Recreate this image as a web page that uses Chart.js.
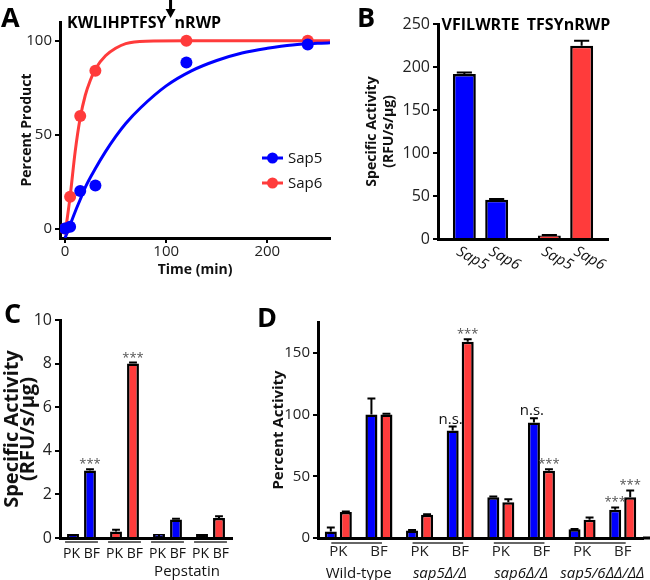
<!DOCTYPE html>
<html>
<head>
<meta charset="utf-8">
<script src="https://cdn.jsdelivr.net/npm/chart.js@4"></script>
<style>
  body { margin: 0; background: #fff; }
  #wrap { position: relative; width: 650px; height: 580px; }
  canvas { position: absolute; }
</style>
</head>
<body>
<div id="wrap">
  <canvas id="chartA" width="336" height="290" style="left:0;top:0"></canvas>
  <canvas id="chartB" width="314" height="290" style="left:336px;top:0"></canvas>
  <canvas id="chartC" width="240" height="290" style="left:0;top:290px"></canvas>
  <canvas id="chartD" width="410" height="290" style="left:240px;top:290px"></canvas>
</div>
<script>
/* panel A : time course on KWLIHPTFSY|nRWP */
var seqLeft = 'KWLIHPTFSY';
var seqRight = 'nRWP';
var timeTicks = [0, 100, 200];
var pctTicks = [0, 50, 100];
var sap5Time = [0, 5, 15, 30, 120, 240];
var sap5Pct = [0, 1, 20, 23, 88.5, 98];
var sap6Time = [0, 5, 15, 30, 120, 240];
var sap6Pct = [0, 17, 60, 84, 100, 100];
// fitted curves
var sap5FitT = [0, 5, 10, 15, 20, 30, 40, 50, 60, 75, 100, 125, 150, 175, 200, 225, 262];
var sap5FitY = [-5, 2, 9, 15.5, 22, 32, 41, 49, 56, 64.5, 76, 84, 89.5, 93.5, 96, 97.8, 99];
var sap6FitT = [0, 5, 10, 15, 20, 25, 30, 40, 50, 60, 80, 120, 262];
var sap6FitY = [-3, 17, 41, 59, 71, 79, 85, 92, 96, 98.5, 99.8, 100, 100];

/* panel B : specific activity on two substrates */
var substrates = ['VFILWRTE', 'TFSYnRWP'];
var bTicks = [0, 50, 100, 150, 200, 250];
var bSap5 = [191.8, 4.2];
var bSap5Err = [1.8, 0.5];
var bSap6 = [45.6, 224.6];
var bSap6Err = [0.8, 5.8];

/* panel C : PK vs BF, +/- pepstatin */
var cGroups = ['Sap5', 'Sap6', 'Sap5 pep', 'Sap6 pep'];
var cNotes = ['', '', 'Pepstatin', 'Pepstatin'];
var cTicks = [0, 2, 4, 6, 8, 10];
var cPK = [0.1, 0.3, 0.02, 0.07];
var cPKErr = [0.03, 0.08, 0.01, 0.02];
var cBF = [3.1, 8.0, 0.85, 0.92];
var cBFErr = [0.05, 0.05, 0.03, 0.08];
var cStars = ['***', '***', '', ''];

/* panel D : percent activity per genotype */
var dGenotypes = ['Wild-type', 'sap5\u0394/\u0394', 'sap6\u0394/\u0394', 'sap5/6\u0394\u0394/\u0394\u0394'];
var dCells = ['PK', 'BF', 'PK', 'BF', 'PK', 'BF', 'PK', 'BF'];
var dTicks = [0, 50, 100, 150];
var dSap5 = [5.3, 100, 6, 87, 33, 93.5, 7, 22.8];
var dSap5Err = [3.2, 13, 0.4, 3.3, 0.6, 3.5, 0.3, 2];
var dSap6 = [21, 100, 18.8, 159, 29, 54.5, 14.8, 33];
var dSap6Err = [0.5, 0.6, 0.5, 2, 2.3, 1.2, 1.8, 5.5];
var dSap5Notes = ['', '', '', 'n.s.', '', 'n.s.', '', '***'];
var dSap6Notes = ['', '', '', '***', '', '***', '', '***'];

var BLUE = '#0000ff';
var RED = '#ff3b3b';
var FONT = "'Open Sans', sans-serif";

Chart.defaults.font.family = FONT;
Chart.defaults.color = '#1a1a1a';

function fixTicks(list) {
  return function (s) { s.ticks = list.map(function (v) { return { value: v }; }); };
}
function pts(xs, ys) {
  return xs.map(function (x, i) { return { x: x, y: ys[i] }; });
}

// panel letter
function letter(txt, x, y) {
  return {
    id: 'letter' + txt,
    afterDraw: function (chart) {
      var ctx = chart.ctx;
      ctx.save();
      ctx.fillStyle = '#000';
      ctx.font = 'bold 27px ' + FONT;
      ctx.textBaseline = 'alphabetic';
      ctx.fillText(txt, x, y);
      ctx.restore();
    }
  };
}

// error bars + significance marks on top of bars
var errorBars = {
  id: 'errorBars',
  afterDatasetsDraw: function (chart) {
    var ctx = chart.ctx, y = chart.scales.y;
    chart.data.datasets.forEach(function (ds, i) {
      if (!ds.errors) return;
      chart.getDatasetMeta(i).data.forEach(function (bar, j) {
        var top = y.getPixelForValue(ds.data[j] + ds.errors[j]);
        var half = bar.width * 0.33;
        ctx.save();
        ctx.strokeStyle = '#000';
        ctx.lineWidth = 2;
        ctx.beginPath();
        ctx.moveTo(bar.x, bar.y);
        ctx.lineTo(bar.x, top);
        ctx.moveTo(bar.x - half, top);
        ctx.lineTo(bar.x + half, top);
        ctx.stroke();
        var note = ds.notes && ds.notes[j];
        if (note) {
          ctx.textAlign = 'center';
          ctx.textBaseline = 'alphabetic';
          if (note == 'n.s.') {
            ctx.fillStyle = '#111';
            ctx.font = '15px ' + FONT;
            ctx.fillText(note, bar.x - 2, top - 3);
          } else {
            ctx.fillStyle = '#555';
            ctx.font = '13px ' + FONT;
            ctx.fillText(note, bar.x, top - 1);
          }
        }
        ctx.restore();
      });
    });
  }
};

function yAxis(min, max, ticks, title, width, titlePad, tickSize, titleFont) {
  return {
    min: min, max: max,
    afterBuildTicks: fixTicks(ticks),
    afterFit: function (s) { s.width = width; },
    grid: { display: true, drawOnChartArea: false, drawTicks: true, tickLength: 5, tickWidth: 2, tickColor: '#000', lineWidth: 2 },
    border: { color: '#000', width: 3 },
    ticks: { font: { size: tickSize || 15 }, color: '#222', padding: 3 },
    title: { display: true, text: title, color: '#111', font: titleFont || { size: 14, weight: 'bold' }, padding: { top: titlePad, bottom: 0 } }
  };
}

/* ---------------- A ---------------- */
var decorA = {
  id: 'decorA',
  afterDraw: function (chart) {
    var ctx = chart.ctx, area = chart.chartArea;
    ctx.save();
    ctx.fillStyle = '#000';
    ctx.font = 'bold 16px ' + FONT;
    ctx.textBaseline = 'alphabetic';
    var x0 = area.left + 7, y0 = 28;
    ctx.fillText(seqLeft, x0, y0);
    var w = ctx.measureText(seqLeft).width;
    ctx.fillText(seqRight, x0 + w + 8, y0);
    // cleavage arrow
    var ax = x0 + w + 4;
    ctx.fillRect(ax - 1.5, 0, 3, 11);
    ctx.beginPath();
    ctx.moveTo(ax - 5, 9);
    ctx.lineTo(ax + 5, 9);
    ctx.lineTo(ax, 18);
    ctx.closePath();
    ctx.fill();
    // legend
    var items = [['Sap5', BLUE], ['Sap6', RED]];
    items.forEach(function (it, i) {
      var lx = area.right - 68, ly = area.top + 136 + i * 25;
      ctx.strokeStyle = it[1];
      ctx.fillStyle = it[1];
      ctx.lineWidth = 3;
      ctx.beginPath();
      ctx.moveTo(lx, ly);
      ctx.lineTo(lx + 21, ly);
      ctx.stroke();
      ctx.beginPath();
      ctx.arc(lx + 10.5, ly, 5.5, 0, Math.PI * 2);
      ctx.fill();
      ctx.fillStyle = '#111';
      ctx.font = '15px ' + FONT;
      ctx.textBaseline = 'middle';
      ctx.fillText(it[0], lx + 26, ly + 1);
    });
    ctx.restore();
  }
};

new Chart(document.getElementById('chartA'), {
  type: 'scatter',
  data: {
    datasets: [
      { label: 'Sap5', data: pts(sap5Time, sap5Pct), backgroundColor: BLUE, borderColor: BLUE, pointRadius: 6, pointBorderWidth: 0, order: 0 },
      { label: 'Sap6', data: pts(sap6Time, sap6Pct), backgroundColor: RED, borderColor: RED, pointRadius: 6, pointBorderWidth: 0, order: 1 },
      { label: 'Sap5 fit', data: pts(sap5FitT, sap5FitY), showLine: true, borderColor: BLUE, borderWidth: 3, pointRadius: 0, cubicInterpolationMode: 'monotone', order: 2 },
      { label: 'Sap6 fit', data: pts(sap6FitT, sap6FitY), showLine: true, borderColor: RED, borderWidth: 3, pointRadius: 0, cubicInterpolationMode: 'monotone', order: 3 }
    ]
  },
  options: {
    responsive: false, animation: false, devicePixelRatio: 1,
    layout: { padding: { top: 22, right: 6, left: 0, bottom: 0 } },
    plugins: { legend: { display: false }, tooltip: { enabled: false } },
    scales: {
      x: {
        type: 'linear', min: -5, max: 262,
        afterBuildTicks: fixTicks(timeTicks),
        afterFit: function (s) { s.height = 52; },
        grid: { display: true, drawOnChartArea: false, drawTicks: true, tickLength: 5, tickWidth: 2, tickColor: '#000', lineWidth: 2 },
        border: { color: '#000', width: 3 },
        ticks: { font: { size: 15 }, color: '#222', padding: 0, maxRotation: 0 },
        title: { display: true, text: 'Time (min)', color: '#111', font: { size: 14, weight: 'bold' }, padding: { top: 0, bottom: 12 } }
      },
      y: yAxis(-5, 110, pctTicks, 'Percent Product', 60, 19)
    }
  },
  plugins: [decorA, letter('A', 1, 27)]
});

/* ---------------- B ---------------- */
var decorB = {
  id: 'decorB',
  afterDraw: function (chart) {
    var ctx = chart.ctx, area = chart.chartArea, x = chart.scales.x;
    ctx.save();
    ctx.fillStyle = '#000';
    ctx.font = 'bold 16px ' + FONT;
    ctx.textAlign = 'center';
    ctx.textBaseline = 'alphabetic';
    substrates.forEach(function (s, i) { ctx.fillText(s, x.getPixelForValue(i) + (i ? 3 : 0), area.top + 6); });
    ctx.fillStyle = '#111';
    ctx.font = 'italic 15px ' + FONT;
    ctx.textAlign = 'left';
    ctx.textBaseline = 'top';
    chart.data.datasets.forEach(function (ds, i) {
      chart.getDatasetMeta(i).data.forEach(function (bar) {
        ctx.save();
        ctx.translate(bar.x - 3, area.bottom + 5);
        ctx.rotate(0.5);
        ctx.fillText(ds.label, 0, 0);
        ctx.restore();
      });
    });
    ctx.restore();
  }
};

new Chart(document.getElementById('chartB'), {
  type: 'bar',
  data: {
    labels: substrates,
    datasets: [
      { label: 'Sap5', data: bSap5, errors: bSap5Err, backgroundColor: [BLUE, RED] },
      { label: 'Sap6', data: bSap6, errors: bSap6Err, backgroundColor: [BLUE, RED] }
    ]
  },
  options: {
    responsive: false, animation: false, devicePixelRatio: 1,
    layout: { padding: { top: 24, right: 42, left: 0, bottom: 0 } },
    plugins: { legend: { display: false }, tooltip: { enabled: false } },
    datasets: { bar: { categoryPercentage: 0.76, barPercentage: 0.71, borderColor: '#000', borderWidth: 2.5 } },
    scales: {
      x: {
        afterFit: function (s) { s.height = 51; },
        grid: { display: false },
        border: { color: '#000', width: 3 },
        ticks: { display: false }
      },
      y: yAxis(0, 250, bTicks, ['Specific Activity', '(RFU/s/\u03bcg)'], 102, 27.6, 16)
    }
  },
  plugins: [errorBars, decorB, letter('B', 21, 27)]
});

/* ---------------- C ---------------- */
var decorC = {
  id: 'decorC',
  afterDraw: function (chart) {
    var ctx = chart.ctx, area = chart.chartArea, x = chart.scales.x;
    var m0 = chart.getDatasetMeta(0).data, m1 = chart.getDatasetMeta(1).data;
    var pair = chart.data.datasets.map(function (ds) { return ds.label; }).join(' ');
    ctx.save();
    ctx.fillStyle = '#111';
    ctx.font = '14px ' + FONT;
    ctx.textAlign = 'center';
    ctx.textBaseline = 'middle';
    ctx.strokeStyle = '#333';
    ctx.lineWidth = 1.5;
    m0.forEach(function (b, j) {
      ctx.fillText(pair, (b.x + m1[j].x) / 2, area.bottom + 16);
      ctx.beginPath();
      ctx.moveTo(b.x - b.width / 2 - 2, area.bottom + 4);
      ctx.lineTo(m1[j].x + m1[j].width / 2 + 2, area.bottom + 4);
      ctx.stroke();
    });
    // treatment label under the groups that share it
    var seen = {};
    ctx.font = '15px ' + FONT;
    cNotes.forEach(function (n) {
      if (!n || seen[n]) return;
      var idx = [];
      cNotes.forEach(function (m, k) { if (m == n) idx.push(k); });
      var cx = (x.getPixelForValue(idx[0]) + x.getPixelForValue(idx[idx.length - 1])) / 2;
      ctx.textBaseline = 'alphabetic';
      ctx.fillText(n, cx - 2, area.bottom + 38);
      seen[n] = true;
    });
    ctx.restore();
  }
};

new Chart(document.getElementById('chartC'), {
  type: 'bar',
  data: {
    labels: cGroups,
    datasets: [
      { label: 'PK', data: cPK, errors: cPKErr, backgroundColor: [BLUE, RED, BLUE, RED] },
      { label: 'BF', data: cBF, errors: cBFErr, notes: cStars, backgroundColor: [BLUE, RED, BLUE, RED] }
    ]
  },
  options: {
    responsive: false, animation: false, devicePixelRatio: 1,
    layout: { padding: { top: 30, right: 8, left: 0, bottom: 0 } },
    plugins: { legend: { display: false }, tooltip: { enabled: false } },
    datasets: { bar: { categoryPercentage: 0.79, barPercentage: 0.7, borderColor: '#000', borderWidth: 2.5, minBarLength: 4 } },
    scales: {
      x: {
        afterFit: function (s) { s.height = 42; },
        grid: { display: false },
        border: { color: '#000', width: 3 },
        ticks: { display: false }
      },
      y: yAxis(0, 10, cTicks, ['Specific Activity', '(RFU/s/\u03bcg)'], 60, 4.5, 16, { size: 20, weight: 'bold', lineHeight: 0.8 })
    }
  },
  plugins: [errorBars, decorC, letter('C', 4, 33)]
});

/* ---------------- D ---------------- */
var decorD = {
  id: 'decorD',
  afterDraw: function (chart) {
    var ctx = chart.ctx, area = chart.chartArea, x = chart.scales.x;
    ctx.save();
    // axis line runs on to the edge
    ctx.fillStyle = '#000';
    ctx.fillRect(area.right, area.bottom - 1.5, chart.width - area.right, 3);
    ctx.strokeStyle = '#333';
    ctx.lineWidth = 1.5;
    ctx.fillStyle = '#111';
    ctx.textAlign = 'center';
    ctx.textBaseline = 'alphabetic';
    dGenotypes.forEach(function (g, k) {
      var pk = x.getPixelForValue(2 * k), bf = x.getPixelForValue(2 * k + 1);
      ctx.beginPath();
      ctx.moveTo(pk - 7, area.bottom + 5);
      ctx.lineTo(bf + 3, area.bottom + 5);
      ctx.stroke();
      ctx.font = (/^sap/.test(g) ? 'italic ' : '') + '15px ' + FONT;
      ctx.fillText(g, (pk + bf) / 2, area.bottom + 40);
    });
    ctx.restore();
  }
};

new Chart(document.getElementById('chartD'), {
  type: 'bar',
  data: {
    labels: dCells,
    datasets: [
      { label: 'Sap5', data: dSap5, errors: dSap5Err, notes: dSap5Notes, backgroundColor: BLUE },
      { label: 'Sap6', data: dSap6, errors: dSap6Err, notes: dSap6Notes, backgroundColor: RED }
    ]
  },
  options: {
    responsive: false, animation: false, devicePixelRatio: 1,
    layout: { padding: { top: 32, right: 7, left: 0, bottom: 0 } },
    plugins: { legend: { display: false }, tooltip: { enabled: false } },
    datasets: { bar: { categoryPercentage: 0.74, barPercentage: 0.8, borderColor: '#000', borderWidth: 2.5 } },
    scales: {
      x: {
        afterFit: function (s) { s.height = 42; },
        grid: { display: false, drawTicks: false },
        border: { color: '#000', width: 3 },
        ticks: { font: { size: 15 }, color: '#222', padding: 5, maxRotation: 0, autoSkip: false }
      },
      y: yAxis(0, 175, dTicks, 'Percent Activity', 78, 29.6, 15, { size: 15, weight: 'bold' })
    }
  },
  plugins: [errorBars, decorD, letter('D', 17, 37)]
});
</script>
</body>
</html>
